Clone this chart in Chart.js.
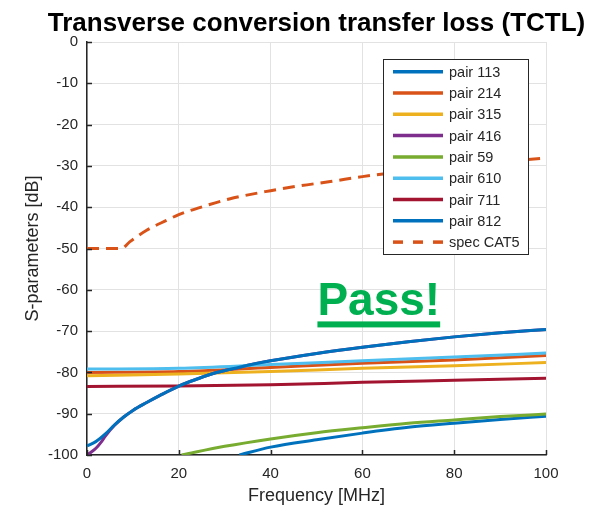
<!DOCTYPE html>
<html>
<head>
<meta charset="utf-8">
<script src="https://cdn.jsdelivr.net/npm/chart.js@4/dist/chart.umd.min.js"></script>
<style>
	body { margin: 0; background: #fff; }
	canvas { display: block; }
</style>
</head>
<body>
<canvas id="tctl" width="592" height="508"></canvas>
<script>

// values (frequency in MHz, level in dB)
const freq113 = [ 33.2, 40, 50, 60, 70, 80, 90, 100 ];
const tctl113 = [ -100, -98.1, -96.3, -94.7, -93.3, -92.3, -91.4, -90.6 ];

const freqFlat = [ 0, 20, 40, 60, 80, 100 ];
const tctl214 = [ -80.0, -79.8, -78.8, -77.8, -77.0, -75.9 ];
const tctl315 = [ -80.8, -80.4, -79.8, -79.0, -78.4, -77.6 ];
const tctl610 = [ -79.2, -79.0, -78.1, -77.2, -76.3, -75.3 ];
const tctl711 = [ -83.4, -83.3, -83.0, -82.4, -81.9, -81.4 ];

const freq416 = [ 0, 1, 2, 3, 4, 6, 8, 10, 13, 16, 20, 24, 28, 33, 40, 50, 60, 70, 80, 90, 100 ];
const tctl416 = [ -100, -99.2, -98.3, -97.0, -95.4, -92.8, -90.8, -89.2, -87.3, -85.5, -83.3, -81.6, -80.1, -78.8, -77.2, -75.4, -73.9, -72.6, -71.4, -70.4, -69.6 ];

const freq812 = [ 0, 2, 4, 6, 8, 10, 13, 16, 20, 24, 28, 33, 40, 50, 60, 70, 80, 90, 100 ];
const tctl812 = [ -97.8, -96.7, -94.9, -92.7, -90.8, -89.2, -87.3, -85.5, -83.3, -81.6, -80.1, -78.8, -77.2, -75.4, -73.9, -72.6, -71.4, -70.4, -69.6 ];

const freq59 = [ 20.6, 30, 40, 50, 60, 70, 80, 90, 100 ];
const tctl59 = [ -100, -97.9, -96.1, -94.6, -93.4, -92.3, -91.5, -90.7, -90.1 ];

const freqSpec = [ 0, 7.5, 9.3, 13, 17.3, 20, 26, 31, 40, 46.5, 53, 60, 70, 80, 90, 100 ];
const specCat5 = [ -50, -50, -48.4, -45.6, -43.2, -41.8, -39.6, -38, -36, -34.8, -33.8, -32.6, -31.2, -30.0, -29.0, -28.1 ];

const chartTitle = 'Transverse conversion transfer loss (TCTL)';
const passLabel = { text: 'Pass!', x: 50.2, y: -66.2 };

const FONT = '"Liberation Sans", Arial, Helvetica, sans-serif';
const AX = '#262626';

const pts = ( xs, ys ) => xs.map( ( x, i ) => ( { x: x, y: ys[i] } ) );

const series = [
	[ 'pair 113', freq113, tctl113, '#0072BD' ],
	[ 'pair 214', freqFlat, tctl214, '#D95319' ],
	[ 'pair 315', freqFlat, tctl315, '#EDB120' ],
	[ 'pair 416', freq416, tctl416, '#7E2F8E' ],
	[ 'pair 59', freq59, tctl59, '#77AC30' ],
	[ 'pair 610', freqFlat, tctl610, '#4DBEEE' ],
	[ 'pair 711', freqFlat, tctl711, '#A2142F' ],
	[ 'pair 812', freq812, tctl812, '#0072BD' ],
	[ 'spec CAT5', freqSpec, specCat5, '#D95319' ]
];

const datasets = series.map( ( s, i ) => ( {
	label: s[0],
	data: pts( s[1], s[2] ),
	borderColor: s[3],
	backgroundColor: s[3],
	borderWidth: 3,
	borderDash: s[0] === 'spec CAT5' ? [ 12, 7 ] : [],
	pointRadius: 0,
	cubicInterpolationMode: 'monotone',
	fill: false,
	// later series on top, like the original
	order: series.length - 1 - i
} ) );

// title, inward ticks, legend box and the "Pass!" note
const extras = {
	id: 'extras',
	afterDraw( chart ) {
		const c = chart.ctx;
		const xs = chart.scales.x, ys = chart.scales.y;
		const a = chart.chartArea;

		c.save();
		c.font = 'bold 26px ' + FONT;
		c.fillStyle = '#000';
		c.textAlign = 'center';
		c.textBaseline = 'alphabetic';
		c.fillText( chartTitle, ( a.left + a.right ) / 2, 31 );
		c.textAlign = 'left';

		c.strokeStyle = AX;
		c.lineWidth = 1.5;
		c.beginPath();
		ys.ticks.forEach( t => {
			const y = Math.round( ys.getPixelForValue( t.value ) ) + 0.5;
			c.moveTo( a.left, y );
			c.lineTo( a.left + 5, y );
		} );
		xs.ticks.forEach( t => {
			const x = Math.round( xs.getPixelForValue( t.value ) ) + 0.5;
			c.moveTo( x, a.bottom );
			c.lineTo( x, a.bottom - 5 );
		} );
		c.stroke();

		// legend
		const bx = 383, by = 59, bw = 145, bh = 195, row = 21.3;
		c.fillStyle = '#fff';
		c.fillRect( bx, by, bw, bh );
		c.strokeStyle = AX;
		c.lineWidth = 1;
		c.strokeRect( bx + 0.5, by + 0.5, bw, bh );
		c.font = '14.5px ' + FONT;
		c.textBaseline = 'middle';
		chart.data.datasets.forEach( ( d, i ) => {
			const y = by + 12.7 + i * row;
			c.strokeStyle = d.borderColor;
			c.lineWidth = 3.5;
			c.setLineDash( d.borderDash.length ? [ 10, 10 ] : [] );
			c.beginPath();
			c.moveTo( bx + 10, y );
			c.lineTo( bx + 60, y );
			c.stroke();
			c.setLineDash( [] );
			c.fillStyle = AX;
			c.fillText( d.label, bx + 66, y + 1 );
		} );

		// pass note
		const px = xs.getPixelForValue( passLabel.x );
		const py = ys.getPixelForValue( passLabel.y );
		c.font = 'bold 46px ' + FONT;
		c.textBaseline = 'alphabetic';
		c.fillStyle = '#00B050';
		c.fillText( passLabel.text, px, py );
		const w = c.measureText( passLabel.text ).width;
		c.fillRect( px, py + 6, w, 6 );
		c.restore();
	}
};

new Chart( 'tctl', {
	type: 'line',
	data: { datasets: datasets },
	plugins: [ extras ],
	options: {
		responsive: false,
		animation: false,
		devicePixelRatio: 1,
		layout: { padding: { left: 0, right: 46, top: 42, bottom: 0 } },
		plugins: {
			legend: { display: false },
			tooltip: { enabled: false },
			title: { display: false }
		},
		scales: {
			x: {
				type: 'linear',
				min: 0,
				max: 100,
				ticks: { stepSize: 20, color: AX, padding: 10, font: { family: FONT, size: 15 } },
				grid: { color: '#e2e2e2', drawTicks: false },
				border: { color: AX, width: 1.5 },
				title: {
					display: true,
					text: 'Frequency [MHz]',
					color: AX,
					font: { family: FONT, size: 18 },
					padding: { top: 0, bottom: 1 }
				},
				afterFit: s => { s.height = 53; }
			},
			y: {
				min: -100,
				max: 0,
				ticks: { stepSize: 10, color: AX, padding: 9, font: { family: FONT, size: 15 } },
				grid: { color: '#e2e2e2', drawTicks: false },
				border: { color: AX, width: 1.5 },
				title: {
					display: true,
					text: 'S-parameters [dB]',
					color: AX,
					font: { family: FONT, size: 18 },
					padding: { top: 22, bottom: 0 }
				},
				afterFit: s => { s.width = 87; }
			}
		}
	}
} );

</script>
</body>
</html>
